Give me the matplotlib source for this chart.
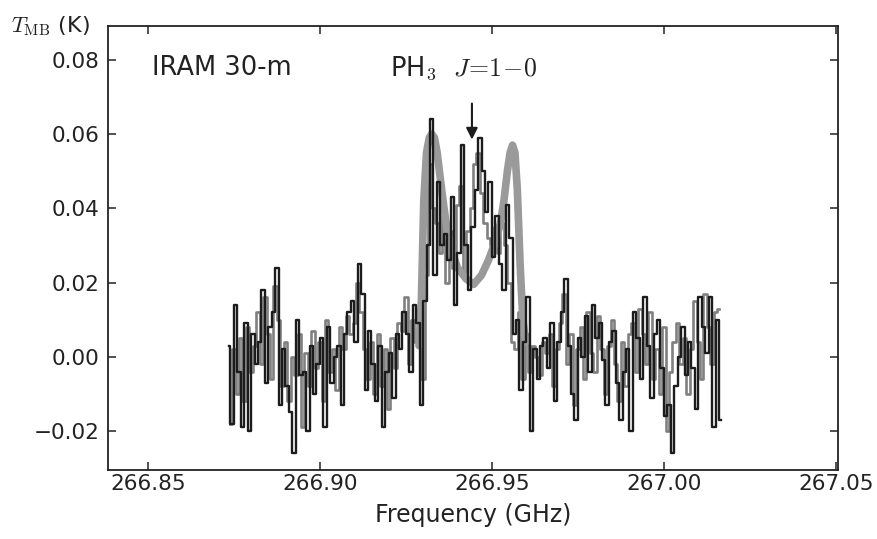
"""
PH3 J=1-0 spectrum (IRAM 30-m) with two-horn model profile.
"""

import numpy as np
import matplotlib
matplotlib.use("Agg")
import matplotlib.pyplot as plt

# --- DATA ---
# channel grid of the spectra (GHz)
F_START = 266.8735
F_STEP = 0.001

# black spectrum, T_MB (K), one value per channel
T_BLACK = [
    0.003, -0.018, 0.014, -0.004, -0.019, 0.009, -0.020, 0.006, -0.002, 0.004,
    0.018, -0.007, 0.008, 0.012, 0.024, -0.013, 0.002, -0.008, -0.015, -0.026,
    0.010, -0.005, -0.004, -0.020, 0.003, -0.010, -0.002, 0.005, -0.019, 0.008,
    -0.007, 0.000, 0.003, -0.013, 0.006, 0.012, 0.015, 0.004, 0.025, 0.017,
    -0.009, 0.007, -0.002, -0.012, 0.003, -0.019, -0.004, 0.001, -0.011, 0.006,
    0.002, 0.012, 0.006, -0.004, 0.014, 0.009, -0.013, 0.015, 0.030, 0.064,
    0.022, 0.047, 0.030, 0.033, 0.026, 0.043, 0.014, 0.028, 0.057, 0.030,
    0.018, 0.035, 0.045, 0.059, 0.050, 0.039, 0.047, 0.027, 0.038, 0.025,
    0.018, 0.041, 0.032, 0.006, 0.010, -0.009, 0.004, 0.016, -0.020, 0.002,
    -0.006, 0.003, 0.005, -0.003, 0.009, -0.012, 0.004, 0.012, 0.021, 0.003,
    -0.010, -0.017, 0.005, 0.000, 0.011, -0.004, 0.014, 0.005, 0.009, -0.001,
    -0.013, 0.004, 0.007, -0.007, -0.017, -0.004, 0.002, -0.020, 0.012, 0.005,
    -0.006, 0.016, 0.003, -0.011, 0.006, 0.010, -0.003, -0.016, -0.013, -0.026,
    -0.008, 0.000, 0.008, -0.005, 0.004, -0.003, -0.014, 0.016, 0.008, 0.001,
    0.016, -0.019, 0.010, -0.017,
]

# grey spectrum, shifted by half a channel
T_GREY = [
    -0.018, 0.002, -0.010, 0.005, -0.012, 0.008, -0.004, 0.003, 0.012, -0.002,
    0.016, 0.006, -0.006, 0.019, 0.010, -0.008, 0.004, -0.012, 0.000, -0.005,
    0.006, -0.019, 0.001, -0.008, 0.007, -0.003, 0.004, -0.012, 0.010, -0.004,
    0.002, -0.009, 0.008, 0.002, 0.011, 0.006, 0.009, 0.020, 0.012, 0.002,
    -0.006, 0.004, -0.010, 0.006, -0.008, 0.002, -0.014, 0.005, -0.003, 0.009,
    0.007, 0.016, -0.002, 0.010, 0.004, 0.013, -0.006, 0.022, 0.052, 0.040,
    0.036, 0.028, 0.038, 0.020, 0.034, 0.024, 0.041, 0.046, 0.022, 0.034,
    0.040, 0.052, 0.055, 0.044, 0.036, 0.032, 0.030, 0.035, 0.028, 0.036,
    0.030, 0.020, 0.004, 0.002, 0.012, -0.006, 0.006, -0.004, 0.003, 0.000,
    -0.005, 0.004, 0.001, 0.006, -0.008, 0.002, 0.009, 0.017, -0.002, 0.006,
    -0.013, 0.002, 0.008, -0.006, 0.012, 0.001, -0.004, 0.011, 0.002, -0.010,
    0.003, 0.010, -0.002, -0.012, 0.004, -0.008, 0.006, 0.009, -0.004, 0.013,
    0.006, -0.002, 0.012, -0.006, 0.002, -0.010, 0.008, -0.020, -0.004, 0.004,
    0.009, -0.002, 0.005, -0.010, 0.002, 0.015, 0.004, -0.006, 0.017, 0.008,
    -0.002, 0.012, 0.013,
]

# model line profile (only where it rises above the baseline)
MODEL_FREQ = [266.9288, 266.9295, 266.9302, 266.9310, 266.9318, 266.9325,
              266.9333, 266.9341, 266.9350, 266.9358, 266.9370, 266.9385,
              266.9400, 266.9425, 266.9447, 266.9470, 266.9490, 266.9510,
              266.9525, 266.9535, 266.9545, 266.9553, 266.9560, 266.9567,
              266.9574, 266.9582, 266.9590, 266.9598]
MODEL_T = [0.003, 0.015, 0.042, 0.055, 0.059, 0.060,
           0.059, 0.055, 0.048, 0.042, 0.034, 0.028,
           0.024, 0.021, 0.0195, 0.022, 0.026, 0.031,
           0.036, 0.042, 0.050, 0.055, 0.057, 0.055,
           0.045, 0.025, 0.010, 0.004]

ARROW_FREQ = 266.9442
ARROW_TOP = 0.0682
ARROW_TIP = 0.0585

X_TICKS = [266.85, 266.90, 266.95, 267.00, 267.05]
Y_TICKS = [-0.02, 0.00, 0.02, 0.04, 0.06, 0.08]

# --- STYLE ---
plt.rcParams['font.family'] = ['DejaVu Sans']
plt.rcParams['mathtext.fontset'] = 'cm'
TICK_SIZE = 15.5
LABEL_SIZE = 17
NOTE_SIZE = 18.5
INK = '#222222'

fig = plt.figure(figsize=(8.77, 5.39), dpi=100)
ax = fig.add_axes([0.1231, 0.128, 0.8324, 0.8238])

freq_black = F_START + F_STEP * np.arange(len(T_BLACK))
freq_grey = F_START + F_STEP / 2 + F_STEP * np.arange(len(T_GREY))

ax.plot(freq_grey, T_GREY, color='#808080', lw=1.9,
        drawstyle='steps-mid', zorder=1)
ax.plot(MODEL_FREQ, MODEL_T, color='#9a9a9a', lw=5.5,
        solid_capstyle='round', solid_joinstyle='round', zorder=2)
ax.plot(freq_black, T_BLACK, color='#1c1c1c', lw=1.7,
        drawstyle='steps-mid', zorder=3)

# arrow marking the line position
ax.annotate('', xy=(ARROW_FREQ, ARROW_TIP), xytext=(ARROW_FREQ, ARROW_TOP),
            arrowprops=dict(arrowstyle='-|>', color='#1c1c1c', lw=1.5,
                            mutation_scale=17, shrinkA=0, shrinkB=0))

ax.set_xlim(266.8384, 267.0506)
ax.set_ylim(-0.0305, 0.0891)
ax.set_xticks(X_TICKS)
ax.set_yticks(Y_TICKS)
ax.set_xticklabels([f"{v:.2f}" for v in X_TICKS])
ax.set_yticklabels([f"{v:.2f}".replace('-', '\u2212') for v in Y_TICKS])

ax.tick_params(direction='in', top=True, right=True, length=6, width=1.1,
               labelsize=TICK_SIZE, colors=INK)
ax.tick_params(axis='x', pad=3)
ax.tick_params(axis='y', pad=6)
for s in ax.spines.values():
    s.set_linewidth(1.3)
    s.set_color(INK)

ax.set_xlabel('Frequency (GHz)', fontsize=LABEL_SIZE, color=INK, labelpad=6)

# axis unit label above the y tick labels
ax.text(-0.133, 1.0, r'$T_{\rm MB}$ (K)',
        transform=ax.transAxes, fontsize=16, color=INK,
        ha='left', va='center')

ax.text(0.060, 0.905, 'IRAM 30-m', transform=ax.transAxes,
        fontsize=NOTE_SIZE, color=INK, ha='left', va='center')
ax.text(0.386, 0.905, r'PH$_3$  $J\!=\!1\!-\!0$', transform=ax.transAxes,
        fontsize=NOTE_SIZE, color=INK, ha='left', va='center')

fig.savefig('out.png', dpi=100)
